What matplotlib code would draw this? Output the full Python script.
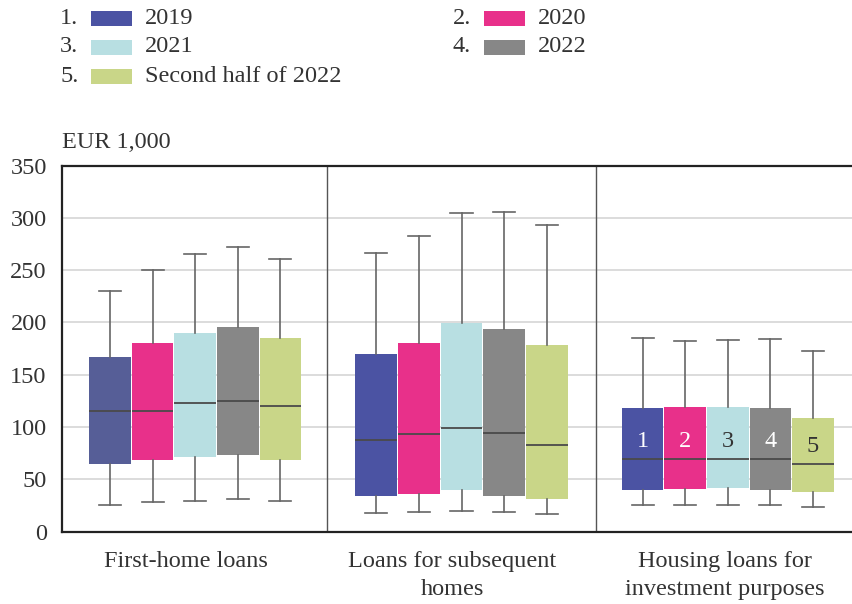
import numpy as np
import matplotlib.pyplot as plt
from matplotlib.patches import Rectangle

plt.rcParams['font.family'] = ['Liberation Serif', 'DejaVu Serif']

groups = ['First-home loans', 'Loans for subsequent\nhomes', 'Housing loans for\ninvestment purposes']
series = ['2019', '2020', '2021', '2022', 'Second half of 2022']
colors = ['#4b53a3', '#e8308a', '#b8dfe2', '#878787', '#c9d688']
num_colors = ['white', 'white', '#333333', 'white', '#333333']

# rows = groups, cols = series
whislo = np.array([[25, 28, 29.5, 31, 29.5],
                   [17.5, 19, 20, 19, 17],
                   [25, 25, 25.5, 25, 23.5]])
q1 = np.array([[65, 68.5, 71.5, 73.5, 68.5],
               [34.5, 36, 40, 34.5, 31.5],
               [40, 41, 41.5, 40, 37.5]])
med = np.array([[115, 115, 123, 125, 120],
                [88, 93, 99.5, 94.5, 83],
                [69, 69, 69.5, 69, 64.5]])
q3 = np.array([[167, 180, 190, 195.5, 185],
               [169.5, 180, 199, 193.5, 178],
               [118, 119, 119.5, 118, 109]])
whishi = np.array([[230, 250, 265, 272, 260.5],
                   [266, 283, 305, 305.5, 293.5],
                   [185, 182, 183, 184.5, 173]])

fs = 17.5
fig = plt.figure(figsize=(8.52, 6.04), dpi=100)
ax = fig.add_axes([62 / 852, 72.4 / 604, 799 / 852, 366.1 / 604])

step = 0.16
width = 0.156
for g in range(len(groups)):
    for s in range(len(series)):
        pos = g + (s - 2) * step
        stats = [dict(whislo=whislo[g, s], q1=q1[g, s], med=med[g, s],
                      q3=q3[g, s], whishi=whishi[g, s], fliers=[])]
        fc = colors[s]
        if g == 0 and s == 0:
            fc = '#565e97'
        ax.bxp(stats, positions=[pos], widths=width, patch_artist=True,
               capwidths=0.083, manage_ticks=False,
               boxprops=dict(facecolor=fc, edgecolor='none'),
               medianprops=dict(color='#4a4a4a', lw=1.3),
               whiskerprops=dict(color='#666666', lw=1.2),
               capprops=dict(color='#666666', lw=1.2))
        if g == 2:
            ypos = 86.5 if s < 4 else 81.5
            ax.text(pos, ypos, str(s + 1), ha='center', va='center',
                    fontsize=fs, color=num_colors[s], zorder=5)

ax.set_xlim(-0.5, 2.5)
ax.set_ylim(0, 350)
ax.set_yticks(range(0, 351, 50))
ax.yaxis.grid(True, color='#d9d9d9', lw=1.3)
ax.set_axisbelow(True)
for d in [0.495, 1.505]:
    ax.axvline(d, color='#555555', lw=1)

ax.set_xticks(np.arange(len(groups)) + np.array([-0.035, -0.035, -0.012]))
ax.set_xticklabels(groups, linespacing=1.45)
ax.tick_params(axis='both', length=0, labelsize=fs, colors='#333333')
ax.tick_params(axis='x', pad=14)
ax.tick_params(axis='y', pad=11)
ax.spines['right'].set_visible(False)
for sp in ['left', 'top', 'bottom']:
    ax.spines[sp].set_color('#222222')
    ax.spines[sp].set_linewidth(1.6)

fig.text(62 / 852, 1 - 142 / 604, 'EUR 1,000', ha='left', va='center',
         fontsize=fs, color='#333333')

# legend drawn by hand, two columns
col_x = [60, 453]
row_y = [18, 47, 76]
for i, lab in enumerate(series):
    cx = col_x[i % 2]
    cy = row_y[i // 2]
    fig.text(cx / 852, 1 - cy / 604, f'{i + 1}.', ha='left', va='center',
             fontsize=fs, color='#333333')
    fig.patches.append(Rectangle(((cx + 31) / 852, 1 - (cy + 7.5) / 604),
                                 41 / 852, 15 / 604, facecolor=colors[i],
                                 edgecolor='none', transform=fig.transFigure))
    fig.text((cx + 85) / 852, 1 - cy / 604, lab, ha='left', va='center',
             fontsize=fs, color='#333333')

fig.savefig('out.png', dpi=100)
